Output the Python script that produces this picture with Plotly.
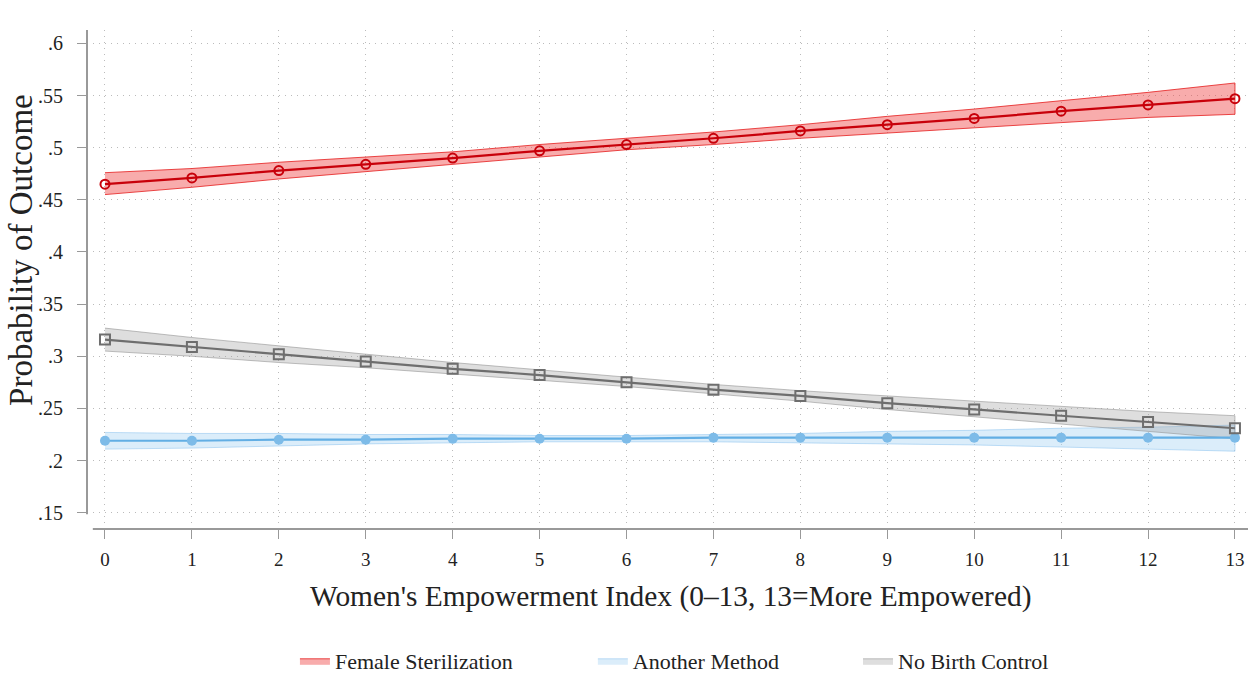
import plotly.graph_objects as go

x_vals = list(range(14))
x_ticks = [str(i) for i in x_vals]

ster = [.465, .471, .478, .484, .490, .497, .503, .509, .516, .522, .528, .535, .541, .547]
ster_lo = [.455, .462, .470, .477, .484, .491, .498, .503, .509, .514, .519, .524, .529, .532]
ster_hi = [.476, .480, .486, .491, .496, .503, .509, .515, .522, .530, .537, .545, .553, .562]

other = [.219, .219, .220, .220, .221, .221, .221, .222, .222, .222, .222, .222, .222, .222]
other_lo = [.211, .212, .214, .216, .217, .218, .218, .218, .217, .216, .215, .213, .211, .209]
other_hi = [.227, .226, .226, .225, .225, .224, .224, .225, .226, .228, .229, .231, .232, .234]

none = [.316, .309, .302, .295, .288, .282, .275, .268, .262, .255, .249, .243, .237, .231]
none_lo = [.305, .300, .294, .289, .283, .277, .271, .264, .257, .249, .242, .235, .228, .221]
none_hi = [.327, .318, .310, .302, .294, .287, .280, .273, .267, .262, .257, .252, .247, .243]

y_tick_vals = [.15, .2, .25, .3, .35, .4, .45, .5, .55, .6]
y_tick_text = [".15", ".2", ".25", ".3", ".35", ".4", ".45", ".5", ".55", ".6"]

x_title = "Women's Empowerment Index (0–13, 13=More Empowered)"
y_title = "Probability of Outcome"

series = [
    ("Female Sterilization", ster, ster_lo, ster_hi, "rgba(240,70,70,0.45)", "rgba(230,40,40,0.85)", "#c8000a",
     dict(symbol="circle-open", size=9, color="#c8000a", line=dict(width=2, color="#c8000a")), "legend"),
    ("Another Method", other, other_lo, other_hi, "rgba(175,215,245,0.45)", "rgba(150,200,240,0.6)", "#62aee4",
     dict(symbol="circle", size=10, color="#7dbbe8"), "legend2"),
    ("No Birth Control", none, none_lo, none_hi, "rgba(160,160,160,0.35)", "rgba(140,140,140,0.55)", "#6e6e6e",
     dict(symbol="square-open", size=10, color="#6e6e6e", line=dict(width=2, color="#6e6e6e")), "legend3"),
]

fig = go.Figure()
for name, mid, lo, hi, fillc, edgec, linec, mk, lg in series:
    fig.add_trace(go.Scatter(
        x=x_vals + x_vals[::-1], y=hi + lo[::-1], fill="toself", fillcolor=fillc,
        line=dict(color=edgec, width=1), mode="lines", name=name, showlegend=True,
        legend=lg, hoverinfo="skip"))
for name, mid, lo, hi, fillc, edgec, linec, mk, lg in series:
    fig.add_trace(go.Scatter(
        x=x_vals, y=mid, mode="lines+markers", line=dict(color=linec, width=2.2),
        marker=mk, name=name, showlegend=False))

font_family = "Liberation Serif"
leg_common = dict(orientation="h", xanchor="left", y=-0.265, yanchor="middle",
                  font=dict(size=22, family=font_family), bgcolor="rgba(0,0,0,0)")
fig.update_layout(
    width=1248, height=682,
    margin=dict(l=87, r=0, t=30, b=146),
    paper_bgcolor="white", plot_bgcolor="white",
    font=dict(family=font_family, color="#222", size=18),
    legend=dict(x=0.1791, **leg_common),
    legend2=dict(x=0.4357, **leg_common),
    legend3=dict(x=0.6641, **leg_common),
    shapes=[
        dict(type="line", xref="paper", yref="y", x0=0, x1=0, y0=0.1485, y1=0.6128,
             line=dict(color="#999", width=2)),
        dict(type="line", xref="x", yref="paper", x0=-0.14, x1=13.15, y0=0, y1=0,
             line=dict(color="#999", width=2)),
    ],
    annotations=[
        dict(text=x_title, xref="paper", yref="paper", x=0.503, y=-0.135,
             xanchor="center", yanchor="middle", showarrow=False,
             font=dict(size=29.4, family=font_family, color="#222")),
        dict(text=y_title, xref="paper", yref="paper", x=-0.057, y=0.559,
             xanchor="center", yanchor="middle", showarrow=False, textangle=-90,
             font=dict(size=33, family=font_family, color="#222")),
    ],
)
fig.update_xaxes(
    range=[-0.207, 13.15], tickmode="array", tickvals=x_vals, ticktext=x_ticks,
    showline=False, ticks="outside", ticklen=9, tickcolor="#999", tickwidth=1,
    showgrid=True, gridcolor="#bbbbbb", griddash="1px,5px", gridwidth=1, zeroline=False,
    tickfont=dict(size=19, family=font_family), automargin=False, ticklabelstandoff=4,
)
fig.update_yaxes(
    range=[0.1344, 0.6128], tickmode="array", tickvals=y_tick_vals, ticktext=y_tick_text,
    showline=False, ticks="outside", ticklen=9, tickcolor="#999", tickwidth=1,
    showgrid=True, gridcolor="#bbbbbb", griddash="1px,5px", gridwidth=1, zeroline=False,
    tickfont=dict(size=20, family=font_family), automargin=False, ticklabelstandoff=10,
)
fig.write_html("out.html", config={"displayModeBar": False},
               post_script="document.body.style.margin='0';document.body.style.overflow='hidden';")
